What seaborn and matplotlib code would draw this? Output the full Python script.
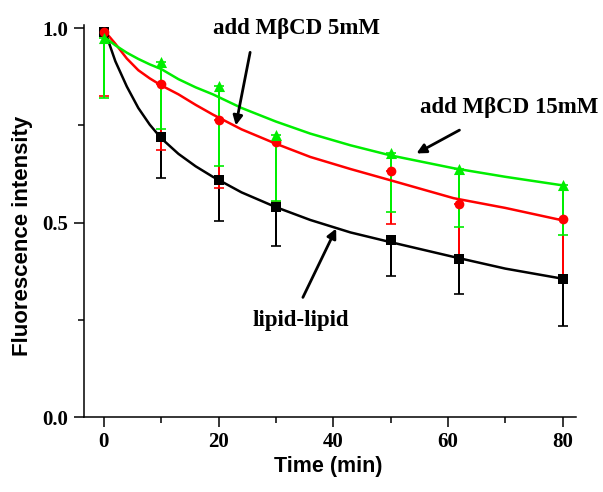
import numpy as np
import pandas as pd
import seaborn as sns
import matplotlib.pyplot as plt
from matplotlib.ticker import MultipleLocator

# ---- data ----
time_pts = [0, 10, 20, 30, 50, 62, 80]

lipid_y = [0.99, 0.72, 0.61, 0.54, 0.455, 0.406, 0.355]
lipid_err = [0.0, 0.105, 0.105, 0.10, 0.093, 0.09, 0.12]

mbcd5_y = [0.99, 0.856, 0.763, 0.708, 0.632, 0.549, 0.51]
mbcd5_err = [0.165, 0.168, 0.175, 0.155, 0.136, 0.14, 0.15]

mbcd15_y = [0.974, 0.913, 0.852, 0.725, 0.68, 0.637, 0.598]
mbcd15_err = [0.154, 0.173, 0.207, 0.17, 0.152, 0.148, 0.13]

# fitted curves
fit_t = [0, 2, 4, 6, 8, 10, 13, 16, 19, 24, 30, 36, 43, 50, 61, 70, 80]
lipid_fit = [1.0, 0.915, 0.85, 0.795, 0.752, 0.717, 0.677, 0.645, 0.618, 0.578,
             0.54, 0.507, 0.475, 0.45, 0.412, 0.382, 0.356]
mbcd5_fit = [0.995, 0.96, 0.922, 0.892, 0.871, 0.853, 0.83, 0.803, 0.778, 0.74,
             0.703, 0.669, 0.638, 0.609, 0.563, 0.538, 0.506]
mbcd15_fit = [0.978, 0.956, 0.937, 0.921, 0.907, 0.895, 0.869, 0.848, 0.83, 0.795,
              0.76, 0.729, 0.699, 0.673, 0.64, 0.618, 0.596]

x_ticks = [0, 20, 40, 60, 80]
y_ticks = [0.0, 0.5, 1.0]
y_ticklabels = ["0.0", "0.5", "1.0"]

# ---- style ----
sns.set_style("ticks")
plt.rcParams['font.family'] = ['Liberation Serif', 'DejaVu Serif']
plt.rcParams.update({"text.color": "black", "axes.labelcolor": "black",
                     "xtick.color": "black", "ytick.color": "black",
                     "axes.edgecolor": "black"})

BLACK = "#000000"
RED = "#ff0000"
GREEN = "#00ee00"

fig = plt.figure(figsize=(6.03, 4.92), dpi=100)
ax = fig.add_axes([0.139, 0.152, 0.816, 0.797])

series = [
    (lipid_y, lipid_err, lipid_fit, BLACK, "s", 6.5),
    (mbcd5_y, mbcd5_err, mbcd5_fit, RED, "o", 7),
    (mbcd15_y, mbcd15_err, mbcd15_fit, GREEN, "^", 8),
]

# error bars (lower only)
for i, (y, err, fit, col, mk, ms) in enumerate(series):
    eb = ax.errorbar(time_pts, y, yerr=[err, [0] * len(err)], fmt="none",
                     ecolor=col, elinewidth=1.2, capsize=3.5, capthick=1.2,
                     zorder=2 + 0.1 * i)
    for c in eb.lines[2]:
        c.set_antialiased(False)

# fitted curves
for y, err, fit, col, mk, ms in series:
    sns.lineplot(x=fit_t, y=fit, ax=ax, color=col, linewidth=1.8, zorder=3,
                 estimator=None, sort=False)

# markers
for y, err, fit, col, mk, ms in series:
    sns.scatterplot(x=time_pts, y=y, ax=ax, color=col, marker=mk, s=ms ** 2,
                    edgecolor=col, linewidth=0, zorder=4)

ax.set_xlim(-3.5, 82.3)
ax.set_ylim(0.0, 1.008)
ax.set_xticks(x_ticks)
ax.set_yticks(y_ticks)
ax.set_yticklabels(y_ticklabels)
ax.xaxis.set_minor_locator(MultipleLocator(10))
ax.yaxis.set_minor_locator(MultipleLocator(0.25))
ax.tick_params(which="major", direction="out", length=7, width=1.1, labelsize=15,
               colors="black", pad=4)
ax.tick_params(which="minor", direction="out", length=4, width=1.1, colors="black")
for lab in ax.get_xticklabels() + ax.get_yticklabels():
    lab.set_fontweight("bold")

for s in ["top", "right"]:
    ax.spines[s].set_visible(False)
for s in ["left", "bottom"]:
    ax.spines[s].set_linewidth(1.1)
    ax.spines[s].set_color("black")

ax.set_xlabel("Time (min)", fontsize=15.5, fontweight="bold",
              family=["Liberation Sans", "DejaVu Sans"])
ax.set_ylabel("Fluorescence intensity", fontsize=16, fontweight="bold",
              family=["Liberation Sans", "DejaVu Sans"])
ax.xaxis.set_label_coords(0.497, -0.1)
ax.yaxis.set_label_coords(-0.103, 0.462)

txt_kw = dict(fontsize=16.5, fontweight="bold", ha="center", va="center",
              color="black")
arrow_kw = dict(arrowprops=dict(arrowstyle="-|>", color="black", lw=2,
                                mutation_scale=14, shrinkA=0, shrinkB=0))
ax.text(33.5, 1.0, "add MβCD 5mM", **txt_kw)
ax.annotate("", xy=(23.0, 0.75), xytext=(25.5, 0.938), **arrow_kw)
ax.text(70.6, 0.797, "add MβCD 15mM", **txt_kw)
ax.annotate("", xy=(54.5, 0.678), xytext=(62, 0.738), **arrow_kw)
ax.text(34.3, 0.249, "lipid-lipid", **txt_kw)
ax.annotate("", xy=(40.5, 0.485), xytext=(34.7, 0.308), **arrow_kw)

fig.savefig("out.png", dpi=100)
